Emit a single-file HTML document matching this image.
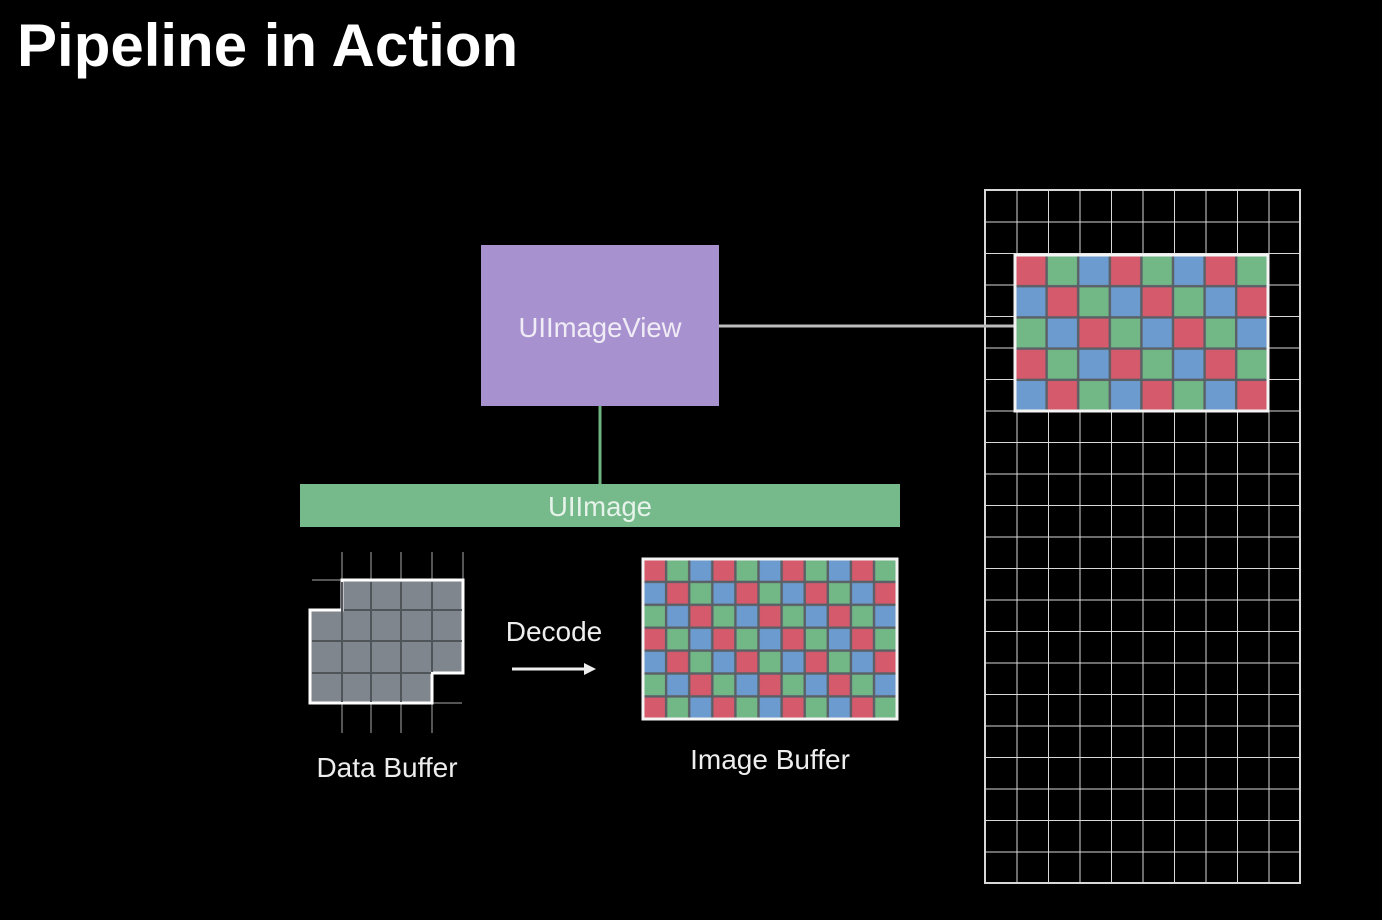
<!DOCTYPE html>
<html><head><meta charset="utf-8"><style>
html,body{margin:0;padding:0;background:#000;}
svg{display:block;}
text{font-family:"Liberation Sans",sans-serif;}
</style></head><body>
<svg width="1382" height="920" viewBox="0 0 1382 920" xmlns="http://www.w3.org/2000/svg">
<defs>
<pattern id="p1" patternUnits="userSpaceOnUse" x="1015" y="255" width="94.8" height="93.6">
<rect width="94.8" height="93.6" fill="#5a6066"/>
<rect x="1.2" y="1.2" width="29.2" height="28.8" fill="#d45a6c"/>
<rect x="32.8" y="1.2" width="29.2" height="28.8" fill="#72b886"/>
<rect x="64.4" y="1.2" width="29.2" height="28.8" fill="#6c9bcf"/>
<rect x="1.2" y="32.4" width="29.2" height="28.8" fill="#6c9bcf"/>
<rect x="32.8" y="32.4" width="29.2" height="28.8" fill="#d45a6c"/>
<rect x="64.4" y="32.4" width="29.2" height="28.8" fill="#72b886"/>
<rect x="1.2" y="63.6" width="29.2" height="28.8" fill="#72b886"/>
<rect x="32.8" y="63.6" width="29.2" height="28.8" fill="#6c9bcf"/>
<rect x="64.4" y="63.6" width="29.2" height="28.8" fill="#d45a6c"/>
</pattern>
<pattern id="p2" patternUnits="userSpaceOnUse" x="643" y="559" width="69.3" height="68.7">
<rect width="69.3" height="68.7" fill="#5a6066"/>
<rect x="1.2" y="1.2" width="20.7" height="20.5" fill="#d45a6c"/>
<rect x="24.3" y="1.2" width="20.7" height="20.5" fill="#72b886"/>
<rect x="47.4" y="1.2" width="20.7" height="20.5" fill="#6c9bcf"/>
<rect x="1.2" y="24.1" width="20.7" height="20.5" fill="#6c9bcf"/>
<rect x="24.3" y="24.1" width="20.7" height="20.5" fill="#d45a6c"/>
<rect x="47.4" y="24.1" width="20.7" height="20.5" fill="#72b886"/>
<rect x="1.2" y="47" width="20.7" height="20.5" fill="#72b886"/>
<rect x="24.3" y="47" width="20.7" height="20.5" fill="#6c9bcf"/>
<rect x="47.4" y="47" width="20.7" height="20.5" fill="#d45a6c"/>
</pattern>
<pattern id="grid" patternUnits="userSpaceOnUse" x="985" y="190" width="31.5" height="31.5">
<path d="M0 0 H31.5 M0 0 V31.5" stroke="#d8d8d8" stroke-width="2" fill="none"/>
</pattern>
</defs>

<text x="17" y="66" fill="#fff" font-size="60" font-weight="bold">Pipeline in Action</text>

<rect x="985" y="190" width="315" height="693" fill="url(#grid)"/>
<rect x="985" y="190" width="315" height="693" fill="none" stroke="#d8d8d8" stroke-width="2"/>

<line x1="719" y1="326" x2="1015" y2="326" stroke="#bdbdbd" stroke-width="3"/>
<line x1="600" y1="406" x2="600" y2="484" stroke="#6fb380" stroke-width="3"/>

<rect x="1015" y="255" width="253" height="156" fill="url(#p1)" stroke="#f4f4f4" stroke-width="3"/>

<rect x="481" y="245" width="238" height="161" fill="#a891cf"/>
<text x="600" y="337" fill="#f0ecf6" font-size="27.5" text-anchor="middle">UIImageView</text>

<rect x="300" y="484" width="600" height="43" fill="#76b98a"/>
<text x="600" y="516" fill="#e6f3ea" font-size="27.5" text-anchor="middle">UIImage</text>

<g stroke="#555" stroke-width="2">
<line x1="342" y1="552" x2="342" y2="733"/>
<line x1="371" y1="552" x2="371" y2="733"/>
<line x1="401" y1="552" x2="401" y2="733"/>
<line x1="432" y1="552" x2="432" y2="733"/>
<line x1="463" y1="552" x2="463" y2="580"/>
<line x1="312" y1="580" x2="342" y2="580"/>
<line x1="432" y1="703" x2="462" y2="703"/>
</g>
<path d="M342 580 H463 V673 H432 V703 H310 V610 H342 Z" fill="#80868d" stroke="#fff" stroke-width="3"/>
<g stroke="#50555a" stroke-width="2">
<line x1="342" y1="582" x2="342" y2="702"/>
<line x1="371" y1="582" x2="371" y2="702"/>
<line x1="401" y1="582" x2="401" y2="702"/>
<line x1="432" y1="582" x2="432" y2="672"/>
<line x1="344" y1="610" x2="462" y2="610"/>
<line x1="312" y1="641" x2="462" y2="641"/>
<line x1="312" y1="673" x2="431" y2="673"/>
</g>
<text x="387" y="777" fill="#eee" font-size="28" text-anchor="middle">Data Buffer</text>

<text x="554" y="641" fill="#eee" font-size="28" text-anchor="middle">Decode</text>
<line x1="512" y1="669" x2="585" y2="669" stroke="#eee" stroke-width="3"/>
<polygon points="584,663 596,669 584,675" fill="#eee"/>

<rect x="643" y="559" width="254" height="160" fill="url(#p2)" stroke="#f4f4f4" stroke-width="3"/>
<text x="770" y="769" fill="#eee" font-size="28" text-anchor="middle">Image Buffer</text>
</svg>
</body></html>
